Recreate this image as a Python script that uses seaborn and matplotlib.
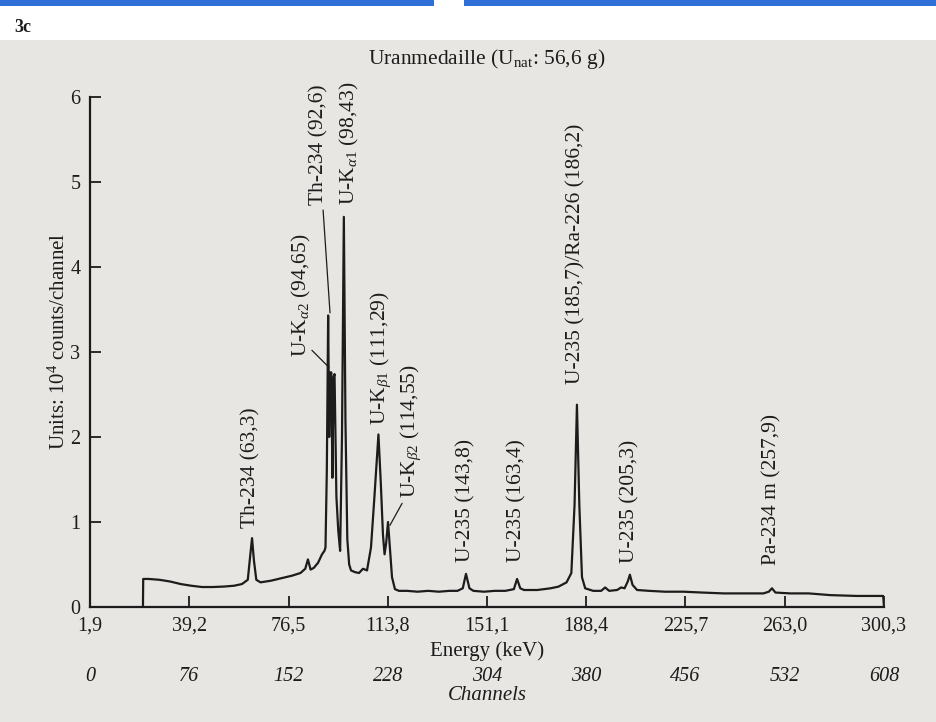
import matplotlib
matplotlib.use("Agg")
import matplotlib.pyplot as plt
import matplotlib.patches as mpatches
import seaborn as sns
import pandas as pd

# ---------------- data ----------------
energy_kev = [21.8, 21.9, 24, 28, 32, 36, 40, 44, 48, 52, 56, 59, 61.2, 62.1, 62.8, 63.5,
              64.4, 66, 70, 74, 78, 81, 82.8, 83.8, 84.8, 86, 87.6, 89.1, 90.0, 90.4, 90.9,
              91.4, 91.8, 92.1, 92.6, 93.0, 93.4, 93.8, 94.5, 95.2, 95.9, 96.6, 97.3, 97.9,
              98.6, 99.3, 100.0, 101.5, 103, 104.5, 106, 107.5, 108.8, 110.3, 111.2, 112.0,
              112.6, 113.2, 113.9, 114.6, 115.4, 116.5, 118, 121, 125, 129, 133, 137, 140,
              142, 143.2, 144.5, 146, 150, 154, 158, 161.2, 162.4, 163.6, 165, 170, 175, 178,
              181, 182.8, 184.0, 184.9, 185.8, 186.8, 188, 191, 194, 195.5, 197, 200, 201.5,
              202.8, 204.0, 204.8, 205.8, 207.5, 212, 218, 225, 232, 240, 248, 255, 257,
              258.2, 259.5, 265, 272, 280, 290, 300.0, 300.3]
counts_1e4 = [0.0, 0.33, 0.33, 0.32, 0.30, 0.27, 0.25, 0.235, 0.235, 0.24, 0.25, 0.27, 0.32,
              0.6, 0.81, 0.55, 0.32, 0.29, 0.31, 0.34, 0.37, 0.40, 0.45, 0.56, 0.44, 0.46,
              0.52, 0.62, 0.66, 0.70, 1.6, 3.43, 2.0, 2.76, 2.76, 1.52, 2.7, 2.74, 1.3, 0.9,
              0.66, 2.0, 4.59, 2.2, 0.8, 0.5, 0.43, 0.41, 0.40, 0.45, 0.43, 0.70, 1.3, 2.03,
              1.45, 0.85, 0.62, 0.75, 1.0, 0.70, 0.35, 0.21, 0.19, 0.19, 0.18, 0.19, 0.18,
              0.19, 0.19, 0.22, 0.39, 0.22, 0.19, 0.18, 0.19, 0.19, 0.21, 0.33, 0.22, 0.20,
              0.20, 0.22, 0.24, 0.29, 0.40, 1.2, 2.38, 1.2, 0.35, 0.22, 0.19, 0.19, 0.23,
              0.19, 0.20, 0.23, 0.22, 0.30, 0.38, 0.26, 0.20, 0.19, 0.18, 0.18, 0.17, 0.16,
              0.16, 0.16, 0.18, 0.22, 0.17, 0.16, 0.16, 0.14, 0.13, 0.13, 0.0]

energy_ticks = [1.9, 39.2, 76.5, 113.8, 151.1, 188.4, 225.7, 263.0, 300.3]
energy_tick_labels = ["1,9", "39,2", "76,5", "113,8", "151,1", "188,4", "225,7", "263,0", "300,3"]
channel_ticks = [0, 76, 152, 228, 304, 380, 456, 532, 608]
y_ticks = [0, 1, 2, 3, 4, 5, 6]

peak_labels = ["Th-234 (63,3)", r"U-K$_{\alpha2}$ (94,65)", "Th-234 (92,6)",
               r"U-K$_{\alpha1}$ (98,43)", r"U-K$_{\beta1}$ (111,29)", r"U-K$_{\beta2}$ (114,55)",
               "U-235 (143,8)", "U-235 (163,4)", "U-235 (185,7)/Ra-226 (186,2)",
               "U-235 (205,3)", "Pa-234 m (257,9)"]
# label anchor positions (energy, counts) – bottom centre of rotated text
label_pos_x = [62.4, 81.2, 88.0, 99.6, 111.3, 122.5, 143.2, 162.4, 184.5, 204.8, 258.2]
label_pos_y = [0.93, 2.94, 4.73, 4.73, 2.14, 1.28, 0.53, 0.53, 2.62, 0.52, 0.49]
# leader lines (x0, y0, x1, y1)
leaders = [(89.5, 4.67, 92.1, 3.46), (85.3, 3.02, 91.7, 2.82), (119.2, 1.22, 114.6, 0.96)]

# ---------------- style ----------------
sns.set_style("ticks")
SERIF = "Liberation Serif"
plt.rcParams["font.family"] = [SERIF, "DejaVu Serif"]
plt.rcParams["mathtext.fontset"] = "custom"
plt.rcParams["mathtext.rm"] = SERIF
plt.rcParams["mathtext.it"] = SERIF + ":italic"
plt.rcParams["mathtext.bf"] = SERIF + ":bold"
INK = "#1c1c1c"
BG = "#e7e6e2"

fig = plt.figure(figsize=(9.36, 7.22), dpi=100, facecolor="white")
# page decoration
fig.patches.append(mpatches.Rectangle((0, 0), 1, 1 - 40 / 722, transform=fig.transFigure,
                                      facecolor=BG, edgecolor="none", zorder=-10))
fig.patches.append(mpatches.Rectangle((0, 1 - 6 / 722), 434 / 936, 6 / 722, transform=fig.transFigure,
                                      facecolor="#2f6fd6", edgecolor="none", zorder=-9))
fig.patches.append(mpatches.Rectangle((464 / 936, 1 - 6 / 722), 472 / 936, 6 / 722,
                                      transform=fig.transFigure,
                                      facecolor="#2f6fd6", edgecolor="none", zorder=-9))
fig.text(14 / 936, 1 - 28 / 722, "3c", fontsize=13, fontweight="bold", color=INK,
         ha="left", va="center")

ax = fig.add_axes([90 / 936, 1 - 607 / 722, (884 - 90) / 936, (607 - 97) / 722])
ax.set_facecolor("none")

df = pd.DataFrame({"energy": energy_kev, "counts": counts_1e4})
sns.lineplot(data=df, x="energy", y="counts", ax=ax, color=INK, linewidth=1.6,
             estimator=None, sort=False)

ax.set_xlim(energy_ticks[0], energy_ticks[-1])
ax.set_ylim(0, 6)
ax.set_xticks(energy_ticks)
ax.set_xticklabels(energy_tick_labels)
ax.set_yticks(y_ticks)
ax.set_yticklabels([str(v) for v in y_ticks])
ax.tick_params(axis="both", direction="in", length=8, width=1.3, colors=INK,
               labelsize=14.5, pad=7)
for s in ("top", "right"):
    ax.spines[s].set_visible(False)
for s in ("left", "bottom"):
    ax.spines[s].set_linewidth(1.6)
    ax.spines[s].set_color(INK)

ax.set_xlabel("Energy (keV)", fontsize=15, color=INK, labelpad=4)
ax.set_ylabel(r"Units: 10$^{4}$ counts/channel", fontsize=15, color=INK)
ax.yaxis.set_label_coords(-20 / 794, 0.52)
ax.set_title(r"Uranmedaille (U$_{\mathrm{nat}}$: 56,6 g)", fontsize=15.5, color=INK, pad=24)

# peak labels
for txt, lx, ly in zip(peak_labels, label_pos_x, label_pos_y):
    ax.text(lx, ly, txt, rotation=90, ha="center", va="bottom", fontsize=15.5, color=INK)
for x0, y0, x1, y1 in leaders:
    ax.plot([x0, x1], [y0, y1], color=INK, lw=0.9)

# channels axis
e_span = energy_ticks[-1] - energy_ticks[0]
c_span = channel_ticks[-1] - channel_ticks[0]
sec = ax.secondary_xaxis(-(664 - 607) / 510,
                         functions=(lambda e: (e - energy_ticks[0]) * c_span / e_span,
                                    lambda c: c * e_span / c_span + energy_ticks[0]))
sec.set_xticks(channel_ticks)
sec.set_xticklabels([str(c) for c in channel_ticks], fontstyle="italic")
sec.tick_params(length=0, pad=2, labelsize=14.5, colors=INK)
sec.spines["bottom"].set_visible(False)
sec.set_xlabel("Channels", fontsize=15, fontstyle="italic", color=INK, labelpad=0)

fig.savefig("out.png", dpi=100, facecolor=fig.get_facecolor())
